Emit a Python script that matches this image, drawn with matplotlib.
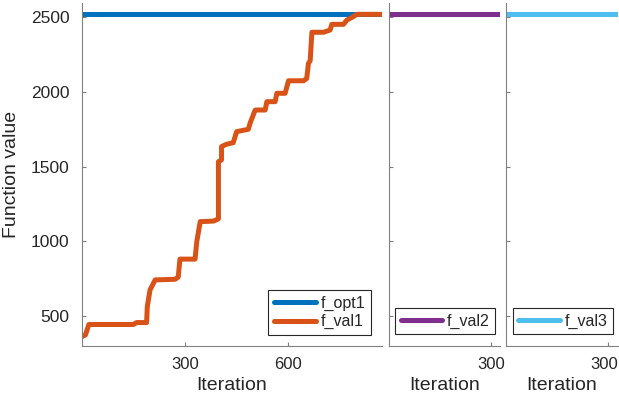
import matplotlib
matplotlib.use('Agg')
import matplotlib.pyplot as plt
import matplotlib.transforms as mtransforms
import numpy as np

# data
iter1 = [1, 10, 20, 149, 159, 188, 190, 198, 213, 271, 280, 285, 329, 334, 344, 383, 397, 397,
         406, 406, 421, 440, 450, 484, 489, 504, 533, 538, 562, 567, 591, 601, 645, 654, 659,
         664, 669, 703, 722, 727, 761, 771, 786, 800, 873]
fval1 = [362, 372, 442, 442, 455, 455, 562, 674, 741, 745, 760, 880, 880, 997, 1131, 1135, 1150,
         1533, 1545, 1634, 1650, 1660, 1734, 1750, 1790, 1879, 1879, 1935, 1935, 1991, 1991,
         2075, 2075, 2091, 2192, 2210, 2400, 2400, 2415, 2453, 2453, 2482, 2500, 2520, 2520]
fopt1 = 2520
fval2 = 2520
fval3 = 2520
n2 = 327
n3 = 330

plt.rcParams['font.family'] = ['Liberation Sans', 'DejaVu Sans']
gray = '#808080'
txt = '#262626'

fig = plt.figure(figsize=(6.19, 3.98), dpi=100)
H = 398.0
W = 619.0
bottom = 1 - 345.7 / H
height = (345.7 - 3) / H
ax1 = fig.add_axes([82 / W, bottom, 300 / W, height])
ax2 = fig.add_axes([389 / W, bottom, 111 / W, height])
ax3 = fig.add_axes([506 / W, bottom, 112 / W, height])

lw = 3.6
ax1.plot([0, iter1[-1]], [fopt1, fopt1], color='#0072BD', lw=lw, label='f_opt1', solid_capstyle='round')
ax1.plot(iter1, fval1, color='#D95319', lw=lw, label='f_val1', solid_capstyle='round')
ax2.plot([1, n2], [fval2, fval2], color='#7E2F8E', lw=lw, label='f_val2', solid_capstyle='round')
ax3.plot([1, n3], [fval3, fval3], color='#4DBEEE', lw=lw, label='f_val3', solid_capstyle='round')

ax1.set_xlim(0, 873)
ax2.set_xlim(0, n2)
ax3.set_xlim(0, n3)
for ax in (ax1, ax2, ax3):
    ax.set_ylim(300, 2596)
    ax.set_yticks([500, 1000, 1500, 2000, 2500])
    ax.spines['top'].set_visible(False)
    ax.spines['right'].set_visible(False)
    ax.spines['left'].set_color(gray)
    ax.spines['bottom'].set_color(gray)
    ax.tick_params(direction='in', length=3, color=gray, labelcolor=txt, labelsize=12.5)
    ax.tick_params(axis='x', pad=8, labelsize=12)
    ax.tick_params(axis='y', pad=9)
    ax.set_xlabel('Iteration', fontsize=14, color=txt, labelpad=4)
ax1.set_xticks([300, 600])
ax2.set_xticks([300])
ax3.set_xticks([300])
ax2.set_yticklabels([])
ax3.set_yticklabels([])
ax1.set_ylabel('Function value', fontsize=14, color=txt, labelpad=8)

# keep the last "300" inside the figure
shift = mtransforms.ScaledTranslation(-4 / 100, 0, fig.dpi_scale_trans)
for lab in ax3.get_xticklabels():
    lab.set_transform(lab.get_transform() + shift)

leg_kw = dict(loc='lower right', fontsize=11.5, handlelength=2.6, fancybox=False,
              edgecolor=txt, framealpha=1, borderaxespad=0, handletextpad=0.3,
              labelspacing=0.2, borderpad=0.35)
l1 = ax1.legend(bbox_to_anchor=(0.962, 0.031), **leg_kw)
l2 = ax2.legend(bbox_to_anchor=(0.957, 0.033), **leg_kw)
l3 = ax3.legend(bbox_to_anchor=(0.955, 0.033), **leg_kw)
for l in (l1, l2, l3):
    l.get_frame().set_linewidth(0.8)
    for t in l.get_texts():
        t.set_color(txt)

fig.savefig('out.png', dpi=100)
